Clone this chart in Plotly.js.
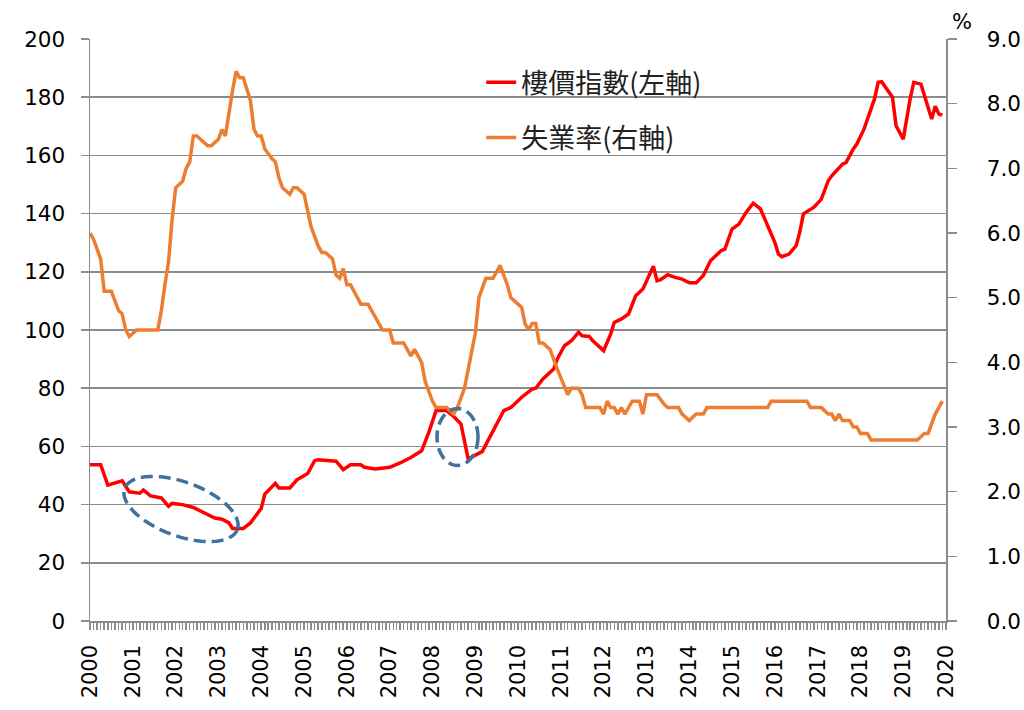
<!DOCTYPE html>
<html>
<head>
<meta charset="utf-8">
<script src="https://cdn.plot.ly/plotly-3.0.1.min.js"></script>
<style>html,body{margin:0;padding:0;background:#fff;}#chart{width:1024px;height:710px;}</style>
</head>
<body>
<div id="chart"></div>
<script>
// ---- Data ----
const priceDates = ["2000-01","2000-04","2000-06","2000-10","2000-12","2001-03","2001-04","2001-06","2001-09","2001-11","2001-12",
"2002-03","2002-06","2002-09","2002-12","2003-02","2003-04","2003-05","2003-08","2003-10","2003-12",
"2004-01","2004-02","2004-05","2004-06","2004-09","2004-11","2005-02","2005-04","2005-05","2005-10","2005-12",
"2006-02","2006-05","2006-06","2006-09","2007-01","2007-04","2007-07","2007-10","2007-12",
"2008-02","2008-05","2008-07","2008-09","2008-11","2009-03","2009-06","2009-09","2009-11",
"2010-02","2010-05","2010-06","2010-08","2010-11","2010-12","2011-02","2011-04","2011-06","2011-07","2011-09","2011-10",
"2012-01","2012-03","2012-04","2012-06","2012-08","2012-10","2012-12","2013-03","2013-04","2013-05","2013-07","2013-09","2013-11",
"2014-01","2014-03","2014-05","2014-07","2014-10","2014-11","2015-01","2015-03","2015-05","2015-07","2015-09","2015-11",
"2016-01","2016-02","2016-03","2016-05","2016-07","2016-08","2016-09","2016-12","2017-02","2017-04","2017-05","2017-08","2017-09","2017-11","2017-12",
"2018-02","2018-04","2018-05","2018-06","2018-07","2018-10","2018-11","2019-01","2019-02","2019-03","2019-04","2019-06","2019-08","2019-09","2019-10","2019-11","2019-12"];
const priceIndex = [53.7,53.7,46.7,48.2,44.4,43.9,45,43,42.3,39.4,40.4,
40,39,37.3,35.4,35,33.7,31.8,31.8,33.7,36.8,
38.7,43.6,47.3,45.7,45.7,48.5,50.7,55.1,55.4,54.9,52,
53.7,53.7,52.8,52.2,52.8,54.3,56.2,58.5,64.8,
72.3,72.3,70.3,67.7,55.7,58.2,65.4,72.3,73.4,
76.9,79.7,80,83.2,86.6,90,94.6,96.3,99.2,98,97.8,96.3,
92.9,98.6,102.6,103.8,105.5,111.8,114.1,121.9,116.9,117.3,119,118.1,117.5,
116.2,116.2,118.7,123.8,127.3,127.8,134.7,136.4,140.4,143.6,141.6,135.8,
130.1,126.1,125.2,126.1,129,133.6,139.9,142.2,145,151.3,153,157,157.6,162.2,163.9,
169.1,176,179.4,185.1,185.3,180,170.2,165.6,173.6,179.4,185.1,184.5,176.5,172.5,176.9,174.2,173.9];

const unempDates = ["2000-01","2000-02","2000-04","2000-05","2000-07","2000-08","2000-09","2000-10","2000-11","2000-12",
"2001-02","2001-08","2001-09","2001-10","2001-11","2001-12","2002-01","2002-03","2002-04","2002-05","2002-06","2002-07","2002-10","2002-11",
"2003-01","2003-02","2003-03","2003-05","2003-06","2003-07","2003-08","2003-10","2003-11","2003-12",
"2004-01","2004-02","2004-04","2004-05","2004-06","2004-07","2004-09","2004-10","2004-11",
"2005-01","2005-03","2005-05","2005-06","2005-07","2005-09","2005-10","2005-11","2005-12",
"2006-01","2006-02","2006-03","2006-05","2006-07","2006-08","2006-10","2006-11",
"2007-01","2007-02","2007-05","2007-07","2007-08","2007-10","2007-11",
"2008-01","2008-02","2008-05","2008-07","2008-08","2008-10","2008-11",
"2009-01","2009-02","2009-03","2009-04","2009-06","2009-08","2009-10","2009-11",
"2010-02","2010-03","2010-04","2010-05","2010-06","2010-07","2010-08","2010-10","2010-12",
"2011-02","2011-03","2011-04","2011-06","2011-07","2011-08","2011-12",
"2012-01","2012-02","2012-03","2012-04","2012-05","2012-06","2012-07","2012-09","2012-11","2012-12",
"2013-01","2013-04","2013-06","2013-07","2013-10","2013-11",
"2014-01","2014-03","2014-05","2014-06","2015-11","2015-12","2016-10","2016-11",
"2017-02","2017-04","2017-05","2017-06","2017-07","2017-08","2017-10","2017-11","2017-12",
"2018-01","2018-03","2018-04","2019-05","2019-07","2019-08","2019-10","2019-12"];
const unempRate = [6.0,5.9,5.6,5.1,5.1,4.95,4.8,4.75,4.5,4.4,
4.5,4.5,4.8,5.2,5.55,6.2,6.7,6.8,7.0,7.1,7.5,7.5,7.35,7.35,
7.45,7.6,7.5,8.2,8.5,8.4,8.4,8.05,7.6,7.5,
7.5,7.3,7.15,7.1,6.85,6.7,6.6,6.7,6.7,
6.6,6.1,5.8,5.7,5.7,5.6,5.35,5.3,5.45,
5.2,5.2,5.1,4.9,4.9,4.8,4.6,4.5,
4.5,4.3,4.3,4.1,4.2,4.0,3.7,
3.4,3.3,3.3,3.2,3.3,3.6,3.9,
4.45,5.0,5.15,5.3,5.3,5.5,5.2,5.0,
4.85,4.6,4.5,4.6,4.6,4.3,4.3,4.2,3.9,
3.6,3.5,3.6,3.6,3.5,3.3,3.3,
3.2,3.4,3.3,3.3,3.2,3.3,3.2,3.4,3.4,3.2,
3.5,3.5,3.35,3.3,3.3,3.2,
3.1,3.2,3.2,3.3,3.3,3.4,3.4,3.3,
3.3,3.2,3.2,3.1,3.2,3.1,3.1,3.0,3.0,
2.9,2.9,2.8,2.8,2.9,2.9,3.2,3.4];

const seriesNames = ["樓價指數(左軸)", "失業率(右軸)"];
const yearTicks = [];
for (let y = 2000; y <= 2020; y++) yearTicks.push(y + "-01-01");
const yearLabels = yearTicks.map(d => d.slice(0, 4));

// ---- Layout helpers ----
const W = 1024, H = 710;
const M = {l: 90, r: 78, t: 39, b: 89};
const PL = M.l, PR = W - M.r, PT = M.t, PB = H - M.b;
function ellipsePath(cx, cy, a, b, deg) {
  const th = deg * Math.PI / 180, n = 60;
  let p = "";
  for (let i = 0; i <= n; i++) {
    const t = 2 * Math.PI * i / n;
    const px = cx + a * Math.cos(t) * Math.cos(th) - b * Math.sin(t) * Math.sin(th);
    const py = cy + a * Math.cos(t) * Math.sin(th) + b * Math.sin(t) * Math.cos(th);
    const xp = (px - PL) / (PR - PL), yp = (PB - py) / (PB - PT);
    p += (i === 0 ? "M" : "L") + xp.toFixed(5) + "," + yp.toFixed(5);
  }
  return p + "Z";
}

const gridGray = "#8c8c8c";
const yTickFont = {family: "DejaVu Sans", size: 21.5, color: "#000"};
const xTickFont = {family: "DejaVu Sans", size: 21, color: "#000"};

const traces = [
  {x: priceDates, y: priceIndex, name: seriesNames[0], type: "scatter", mode: "lines",
   line: {color: "#ff0000", width: 3.5}, yaxis: "y", legend: "legend"},
  {x: unempDates, y: unempRate, name: seriesNames[1], type: "scatter", mode: "lines",
   line: {color: "#ed7d31", width: 3.5}, yaxis: "y2", legend: "legend2"}
];

const legendFont = {family: "Noto Sans CJK TC", size: 27, color: "#222"};
const layout = {
  width: W, height: H,
  margin: M,
  paper_bgcolor: "#fff", plot_bgcolor: "#fff",
  showlegend: true,
  xaxis: {
    type: "date", range: ["2000-01-01", "2020-01-01"],
    tickmode: "array", tickvals: yearTicks, ticktext: yearLabels,
    tickangle: -90, tickfont: xTickFont,
    ticks: "outside", ticklen: 7, tickcolor: gridGray, tickwidth: 1.5,
    minor: {dtick: "M1", tick0: "2000-01-01", ticks: "outside", ticklen: 7, tickcolor: gridGray, tickwidth: 1.5, showgrid: false},
    showgrid: false, showline: true, linecolor: gridGray, linewidth: 1.5,
    ticklabelstandoff: 7, zeroline: false, fixedrange: true
  },
  yaxis: {
    range: [0, 200], dtick: 20, tick0: 0,
    tickfont: yTickFont, ticks: "outside", ticklen: 8, tickcolor: gridGray, tickwidth: 1.5,
    showgrid: true, gridcolor: gridGray, gridwidth: 1.5,
    showline: true, linecolor: gridGray, linewidth: 1.5, zeroline: false,
    ticklabelstandoff: 11
  },
  yaxis2: {
    range: [0, 9], dtick: 1, tick0: 0, tickformat: ".1f",
    overlaying: "y", side: "right",
    tickfont: yTickFont, ticks: "outside", ticklen: 9, tickcolor: gridGray, tickwidth: 1.5,
    showgrid: false, showline: true, linecolor: gridGray, linewidth: 1.5, zeroline: false,
    ticklabelstandoff: 26
  },
  legend: {x: 0.457, y: 0.925, xanchor: "left", yanchor: "middle", bgcolor: "rgba(0,0,0,0)", font: legendFont, borderwidth: 0},
  legend2: {x: 0.457, y: 0.83, xanchor: "left", yanchor: "middle", bgcolor: "rgba(0,0,0,0)", font: legendFont, borderwidth: 0},
  shapes: [
    {type: "path", xref: "paper", yref: "paper", path: ellipsePath(181, 509, 60, 27, 20),
     line: {color: "#41719c", width: 3.5, dash: "12px,6px"}, fillcolor: "rgba(0,0,0,0)"},
    {type: "path", xref: "paper", yref: "paper", path: ellipsePath(457.5, 437, 20.5, 28.5, 0),
     line: {color: "#41719c", width: 3.5, dash: "12px,6px"}, fillcolor: "rgba(0,0,0,0)"}
  ],
  annotations: [
    {text: "%", xref: "paper", yref: "paper", x: (962 - PL) / (PR - PL), y: (PB - 22) / (PB - PT),
     xanchor: "center", yanchor: "middle",
     showarrow: false, font: {family: "DejaVu Sans", size: 21, color: "#000"}}
  ]
};

Plotly.newPlot("chart", traces, layout, {staticPlot: true, displayModeBar: false});
</script>
</body>
</html>
